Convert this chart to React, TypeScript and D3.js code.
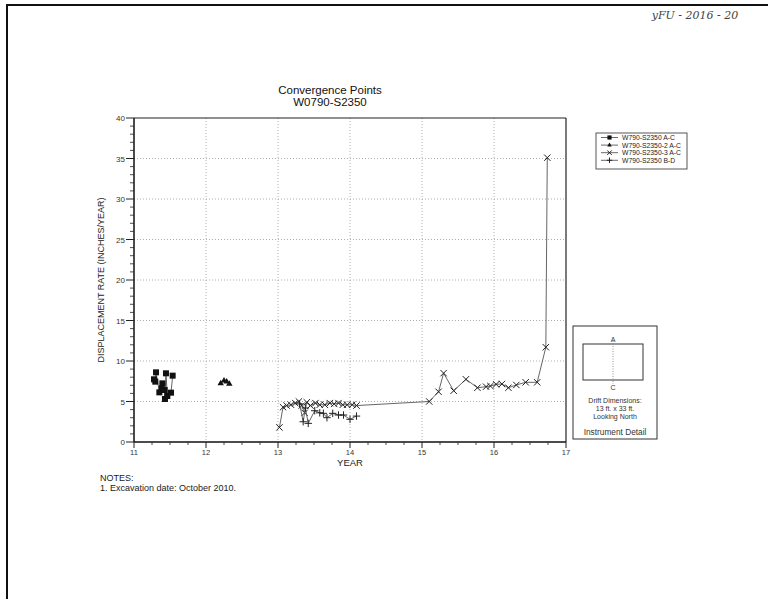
import React from "react";
import * as d3 from "d3";

// Series data: [year, rate]
const seriesAC: [number, number][] = [
  [11.278, 7.74], [11.296, 7.45], [11.306, 8.6], [11.352, 6.13], [11.385, 6.63],
  [11.394, 7.24], [11.426, 6.42], [11.43, 5.31], [11.444, 8.48], [11.463, 5.68],
  [11.514, 6.09], [11.537, 8.19],
];
const series2AC: [number, number][] = [
  [12.204, 7.24], [12.25, 7.57], [12.287, 7.44], [12.324, 7.16],
];
const series3AC: [number, number][] = [
  [13.02, 1.8], [13.07, 4.3], [13.12, 4.5], [13.18, 4.6], [13.24, 4.8], [13.29, 5.0],
  [13.33, 4.5], [13.37, 3.6], [13.4, 4.9], [13.45, 4.5], [13.52, 4.8], [13.58, 4.6],
  [13.65, 4.6], [13.72, 4.8], [13.78, 4.7], [13.84, 4.8], [13.9, 4.6], [13.96, 4.6],
  [14.03, 4.6], [14.09, 4.5], [15.1, 5.0], [15.23, 6.2], [15.3, 8.5], [15.44, 6.33],
  [15.61, 7.74], [15.77, 6.7], [15.89, 6.83], [15.95, 6.91], [16.03, 7.12],
  [16.11, 7.16], [16.2, 6.7], [16.31, 7.04], [16.44, 7.37], [16.6, 7.37],
  [16.72, 11.7], [16.74, 35.1],
];
const seriesBD: [number, number][] = [
  [13.3, 4.7], [13.35, 2.5], [13.38, 4.2], [13.42, 2.3], [13.51, 3.86], [13.58, 3.6],
  [13.63, 3.54], [13.68, 3.0], [13.76, 3.54], [13.84, 3.33], [13.91, 3.33],
  [14.0, 2.8], [14.09, 3.2],
];

const legendLabels = ["W790-S2350 A-C", "W790-S2350-2 A-C", "W790-S2350-3 A-C", "W790-S2350 B-D"];
const xMajor = [11, 12, 13, 14, 15, 16, 17];
const yMajor = [0, 5, 10, 15, 20, 25, 30, 35, 40];
const noteLines = ["NOTES:", "1. Excavation date: October 2010."];
const detailLines = ["Drift Dimensions:", "13 ft. x 33 ft.", "Looking North"];

const FONT = "Liberation Sans, Arial, sans-serif";

function Marker({ kind, cx, cy, s = 1 }: { kind: number; cx: number; cy: number; s?: number }) {
  if (kind === 0) return <rect x={cx - 3 * s} y={cy - 3 * s} width={6 * s} height={6 * s} fill="#111" />;
  if (kind === 1) {
    const p = d3.symbol().type(d3.symbolTriangle).size(18 * s * s)();
    return <path d={p || ""} transform={`translate(${cx},${cy})`} fill="#111" />;
  }
  const r = 3.2 * s;
  if (kind === 2)
    return (
      <path d={`M${cx - r},${cy - r}L${cx + r},${cy + r}M${cx - r},${cy + r}L${cx + r},${cy - r}`} stroke="#222" strokeWidth={1} />
    );
  return (
    <path d={`M${cx - r - 0.5},${cy}L${cx + r + 0.5},${cy}M${cx},${cy - r - 0.5}L${cx},${cy + r + 0.5}`} stroke="#222" strokeWidth={1} />
  );
}

export default function App() {
  const x = d3.scaleLinear().domain([11, 17]).range([134, 566]);
  const y = d3.scaleLinear().domain([0, 40]).range([442, 118]);
  const line = d3.line<[number, number]>().x((d) => x(d[0])).y((d) => y(d[1]));
  const all = [seriesAC, series2AC, series3AC, seriesBD];
  const xMinor = d3.range(11, 17.001, 0.25).filter((v) => Math.abs(v - Math.round(v)) > 0.01);
  const yMinor = d3.range(0, 40.001, 1).filter((v) => v % 5 !== 0);

  return (
    <svg width={768} height={599} style={{ position: "absolute", left: 0, top: 0, background: "#fff" }} fontFamily={FONT}>
      <rect width={768} height={599} fill="#fff" />
      {/* page border */}
      <line x1={6} y1={5} x2={768} y2={5} stroke="#111" strokeWidth={2} />
      <line x1={7} y1={5} x2={7} y2={599} stroke="#111" strokeWidth={2} />
      <text x={695} y={19} textAnchor="middle" fontSize={11} fontStyle="italic" fill="#444" fontFamily="DejaVu Serif, serif">
        yFU - 2016 - 20
      </text>

      {/* title */}
      <text x={330} y={94} textAnchor="middle" fontSize={11.5} fill="#111">Convergence Points</text>
      <text x={330} y={106} textAnchor="middle" fontSize={11.5} fill="#111">W0790-S2350</text>

      {/* grid */}
      {xMajor.slice(1, -1).map((v) => (
        <line key={"gx" + v} x1={x(v)} x2={x(v)} y1={y(40)} y2={y(0)} stroke="#999" strokeDasharray="1,2" strokeWidth={0.8} />
      ))}
      {yMajor.slice(1, -1).map((v) => (
        <line key={"gy" + v} x1={x(11)} x2={x(17)} y1={y(v)} y2={y(v)} stroke="#999" strokeDasharray="1,2" strokeWidth={0.8} />
      ))}

      {/* frame */}
      <line x1={x(11)} x2={x(17)} y1={y(40)} y2={y(40)} stroke="#222" strokeWidth={1.2} />
      <line x1={x(17)} x2={x(17)} y1={y(40)} y2={y(0)} stroke="#222" strokeWidth={1.2} />
      <line x1={x(11)} x2={x(11)} y1={y(40)} y2={y(0)} stroke="#111" strokeWidth={1.5} />
      <line x1={x(11)} x2={x(17)} y1={y(0)} y2={y(0)} stroke="#111" strokeWidth={1.5} />

      {/* y ticks */}
      {yMajor.map((v) => (
        <g key={"yt" + v}>
          <line x1={x(11) - 8} x2={x(11)} y1={y(v)} y2={y(v)} stroke="#222" strokeWidth={1} />
          <text x={x(11) - 9} y={y(v) + 3} textAnchor="end" fontSize={8} fill="#333">{v}</text>
        </g>
      ))}
      {yMinor.map((v) => (
        <line key={"ym" + v} x1={x(11) - 4} x2={x(11)} y1={y(v)} y2={y(v)} stroke="#222" strokeWidth={0.8} />
      ))}
      {/* x ticks */}
      {xMajor.map((v) => (
        <g key={"xt" + v}>
          <line x1={x(v)} x2={x(v)} y1={y(0)} y2={y(0) + 6} stroke="#222" strokeWidth={1} />
          <text x={x(v)} y={y(0) + 12.5} textAnchor="middle" fontSize={7.5} fill="#333">{v}</text>
        </g>
      ))}
      {xMinor.map((v) => (
        <line key={"xm" + v} x1={x(v)} x2={x(v)} y1={y(0)} y2={y(0) + 3} stroke="#222" strokeWidth={0.8} />
      ))}

      <text x={350} y={466} textAnchor="middle" fontSize={9.5} fill="#222">YEAR</text>
      <text transform={`translate(104,280) rotate(-90)`} textAnchor="middle" fontSize={9} fill="#222">
        DISPLACEMENT RATE (INCHES/YEAR)
      </text>

      {/* series */}
      {all.map((s, i) => (
        <g key={"s" + i}>
          <path d={line(s) || ""} fill="none" stroke="#555" strokeWidth={0.9} />
          {s.map((d, j) => (
            <Marker key={j} kind={i} cx={x(d[0])} cy={y(d[1])} />
          ))}
        </g>
      ))}

      {/* legend */}
      <rect x={596} y={133} width={91} height={36} fill="#fff" stroke="#444" strokeWidth={0.9} />
      {legendLabels.map((t, i) => {
        const ly = 137.5 + i * 7.6;
        return (
          <g key={"lg" + i}>
            <line x1={601} x2={618} y1={ly} y2={ly} stroke="#444" strokeWidth={0.8} />
            <Marker kind={i} cx={609.5} cy={ly} s={0.7} />
            <text x={622} y={ly + 2.5} fontSize={6.8} fill="#222">{t}</text>
          </g>
        );
      })}

      {/* instrument detail */}
      <rect x={573} y={326} width={84} height={113} fill="#fff" stroke="#333" strokeWidth={1} />
      <rect x={583} y={344} width={60} height={36} fill="none" stroke="#333" strokeWidth={1} />
      <line x1={613} x2={613} y1={341} y2={384} stroke="#777" strokeDasharray="1,1.5" strokeWidth={0.8} />
      <text x={613} y={341.5} textAnchor="middle" fontSize={7} fill="#333">A</text>
      <text x={613} y={390} textAnchor="middle" fontSize={7} fill="#333">C</text>
      {detailLines.map((t, i) => (
        <text key={"dl" + i} x={615} y={403 + i * 8} textAnchor="middle" fontSize={7} fill="#333">{t}</text>
      ))}
      <text x={615} y={435} textAnchor="middle" fontSize={8.3} fill="#333">Instrument Detail</text>

      {/* notes */}
      {noteLines.map((t, i) => (
        <text key={"n" + i} x={100} y={481 + i * 10} fontSize={9} fill="#222">{t}</text>
      ))}
    </svg>
  );
}
